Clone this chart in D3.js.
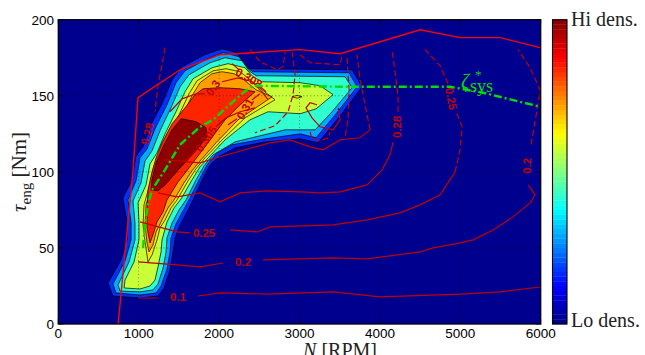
<!DOCTYPE html>
<html>
<head>
<meta charset="utf-8">
<script src="https://cdn.jsdelivr.net/npm/d3@7"></script>
<style>
  body { margin: 0; background: #fff; }
  svg { display: block; }
</style>
</head>
<body>
<svg id="chart" width="645" height="355"></svg>
<script>
// ---------------- data ----------------
const xTicks = [0, 1000, 2000, 3000, 4000, 5000, 6000];
const yTicks = [0, 50, 100, 150, 200];

// density regions (filled contours), outermost first, points are [N rpm, torque Nm]
const dens1 = [[680,18.4],[1016,17.1],[1240,18.4],[1315,23.7],[1390,35.5],[1427,47.4],[1452,56.6],[1514,65.1],[1601,73.7],[1676,81.6],[1788,94.7],[1887,104.6],[2012,110.5],[2198,115.8],[2572,119.7],[3007,121.7],[3231,119.1],[3505,136.8],[3778,155.9],[3654,167.1],[2385,167.8],[2298,171.1],[2223,178.3],[2037,180.9],[1825,177],[1539,169.1],[1415,160.5],[1303,146.1],[1141,129.6],[1054,116.4],[967,110.5],[917,94.7],[805,82.9],[855,66.4],[855,55.3],[780,42.1],[619,27]];
const dens2 = [[718,20.4],[1016,19.1],[1216,20.4],[1278,25],[1352,36.2],[1390,47.4],[1402,56.6],[1464,65.8],[1552,74.4],[1626,81.6],[1751,94.7],[1850,104.6],[1974,112.5],[2161,117.8],[2572,121.7],[3007,125],[3206,122.4],[3455,138.2],[3716,155.9],[3617,165.1],[2422,165.8],[2335,169.1],[2248,175.7],[2049,178.3],[1850,174.3],[1576,166.4],[1464,158.6],[1352,144.1],[1203,128.3],[1104,115.1],[1016,109.2],[967,94.1],[867,81.6],[905,66.4],[905,55.3],[830,41.4],[680,26.3]];
const dens3 = [[768,21.7],[1016,21.1],[1178,22.4],[1240,26.3],[1303,36.8],[1340,47.4],[1352,56.6],[1415,66.4],[1502,75],[1589,81.6],[1713,94.7],[1813,104],[1925,111.2],[2198,119.7],[2509,123.7],[2820,127.6],[3194,127.6],[3405,139.5],[3654,155.3],[3567,162.5],[2460,163.2],[2373,166.4],[2285,173],[2074,175],[1887,171.7],[1626,163.8],[1514,155.9],[1402,142.1],[1265,127],[1166,113.8],[1079,107.2],[1029,92.8],[929,80.9],[954,66.4],[954,55.3],[880,40.8],[743,25.7]];
const dens4 = [[818,23.7],[1016,23],[1141,25],[1203,28.9],[1240,37.5],[1278,47.4],[1290,55.3],[1352,67.1],[1440,76.3],[1527,82.2],[1663,94.7],[1763,103.3],[1863,109.2],[2074,121],[2385,134.2],[2609,139.5],[3007,138.2],[3206,141.4],[3418,150.7],[3256,156.6],[3007,158.6],[2534,159.2],[2422,162.5],[2323,168.4],[2111,171.1],[1912,168.4],[1676,161.2],[1576,152.6],[1464,139.5],[1328,125],[1228,112.5],[1141,105.3],[1091,91.4],[992,79.6],[1004,66.4],[1004,55.3],[942,40.8],[830,28.9]];
const dens5 = [[1116,40.8],[1166,45.4],[1228,55.3],[1265,63.2],[1328,68.4],[1402,76.3],[1477,81.6],[1614,94.1],[1713,102],[1825,109.2],[2037,121],[2323,135.5],[2696,147.4],[2534,153.9],[2385,160.5],[2261,165.8],[2086,167.8],[1925,166.4],[1726,159.9],[1626,151.3],[1514,138.8],[1377,123.7],[1278,111.2],[1191,104],[1129,90.1],[1066,78.3],[1054,65.1],[1079,54]];
const dens5b = [[2907,149.3],[2969,150.3],[3032,149.3],[2969,148.4]];
const dens6 = [[1129,47.4],[1178,52],[1216,60.5],[1290,68.4],[1365,76.3],[1440,81.6],[1564,92.8],[1663,100.7],[1775,107.9],[1962,119.1],[2236,134.2],[2659,149.3],[2460,153.9],[2310,160.5],[2186,164.5],[2037,165.8],[1912,164.5],[1763,158.6],[1663,150],[1552,137.5],[1415,122.4],[1315,110.5],[1228,102.6],[1153,89.5],[1091,78.3],[1079,65.1],[1104,53.3]];
const dens7 = [[1141,53.3],[1178,58.6],[1228,67.1],[1303,73.7],[1352,81.6],[1489,93.4],[1589,100],[1701,107.9],[1863,119.1],[2074,134.2],[2261,144.1],[2447,152.6],[2261,154.6],[2012,155.3],[1800,154.6],[1701,150.7],[1576,142.1],[1415,131.6],[1290,119.1],[1216,109.2],[1166,100],[1116,88.2],[1104,75],[1104,63.2]];
const dens8 = [[1527,134.9],[1713,133],[1838,129],[1850,123],[1701,113.2],[1514,102.6],[1328,91.4],[1240,87.5],[1153,88.2],[1166,94.7],[1216,105.9],[1315,117.8],[1415,127.6]];

const densRegions = [dens1, dens2, dens3, dens4, dens5, dens5b, dens6, dens7, dens8];
const densLevel = [1, 2, 3, 4, 5, 5, 6, 7, 8];

// efficiency contours (null = break for the inline label)
const eff010 = [[991,17.1],[1240,17.1],null,[1738,18.4],[2012,20.4],[2596,19.7],[3418,21.1],[4002,17.8],[4998,19.7],[5496,21.1],[5993,24.3]];
const eff020 = [[991,40.8],[1477,38.8],[1763,37.5],[2049,40.1],null,[2547,42.1],[3418,43.4],[3840,42.8],[4500,47.4],[4662,50],[4998,53.3],[5159,55.3],[5408,61.8],[5657,70.4],[5868,79.6],[5930,84.9],[5843,91.4]];
const eff025 = [[1016,67.1],[1477,60.5],[1638,59.9],null,[2136,61.8],[2472,60.5],[2634,63.8],[3418,65.1],[3840,68.4],[4251,73],[4500,78.3],[4749,84.9],[4935,100]];
const eff028 = [[1240,86.2],[1477,83.6],[1763,86.2],[2012,80.3],[2261,86.2],[2596,87.5],[3007,86.8],[3256,86.2],[3505,86.8],[3840,91.4],[4027,101.3],[4127,111.2],[4164,119.7]];
const eff029 = [[1328,107.9],[1763,105.9],[2012,109.9],[2323,114.5],[2634,119.1],[2882,121],[3131,116.4],[3293,114.5],[3505,121],[3753,122.4],[3878,127.6]];
const effLoop = [[3218,144.1],[3131,145.4],[3081,142.1],[3156,135.5],[3256,129.6],[3418,127.6],[3505,134.2],[3480,142.1]];
const eff030 = [[1390,139.5],[1539,148],[1713,151.3],[1825,151.3],null,[2037,159.2],[2236,161.8],[2410,159.2],[2534,152.6],[2609,147.4]];
const eff0305 = [[1576,106.6],[1713,114.5],null,[1962,129.6],[2086,135.5],[2261,139.5],[2447,142.1]];
const eff031 = [[2111,130.9],[2223,134.9],null,[2410,147.4],[2509,151.3]];
const eff0308 = [[2161,171.1],[2248,167.1],null,[2497,156.6],[2584,152.6]];

// the dashed (upper map) part of the contours
const eff020d = [[5880,118],[5955,140.8],[5993,153.9],[5868,168.4],[5719,180.3]];
const eff025d = [[4935,100],[4998,114.5],[5022,129.6],[4947,139.5],null,[4848,157.9],[4749,169.7],[4562,180.3]];
const eff028d = [[4226,139.5],[4226,149.3],[4201,160.5],[4151,180.3]];
const eff029d = [[3878,127.6],[3816,144.1],[3753,160.5],[3716,177]];
const eff028left = [[1328,181.6],[1290,170.4],[1240,157.2],[1203,139.5]];
const effTop1 = [[2385,180.3],[2509,172.4],[2721,167.1],[2796,169.1],[2821,178.9]];
const effTop2 = [[2907,178.9],[2945,163.8],[2920,150.7],[2858,139.5],[2696,130.3],[2447,125.7]];
const effTop3 = [[3007,177],[3131,171.7],[3505,170.4],[3530,177]];
const effTop4 = [[3131,126.3],[3156,121.7],[3256,120.4],[3356,122.4],[3380,126.3]];
const effTop5 = [[3592,175],[3617,154],[3604,135.5],[3567,122.4]];

const effSolid = [eff010, eff020, eff025, eff028, eff029, effLoop, eff030, eff0305, eff031, eff0308];
const effDashed = [eff020d, eff025d, eff028d, eff029d, eff028left, effTop1, effTop2, effTop3, effTop4, effTop5];

// contour labels: text, N, torque, angle
const effLabels = [
  ["0.1", 1489, 17.8, 0], ["0.2", 2298, 40.8, 0], ["0.25", 1813, 59.9, 0],
  ["0.2", 5831, 104, -90], ["0.25", 4886, 148, 80], ["0.28", 4214, 129.6, -90],
  ["0.28", 1104, 125, -75], ["0.3", 1925, 155.3, -55], ["0.305", 1838, 121.7, -55],
  ["0.31", 2323, 141.4, -60], ["0.308", 2372, 161.8, 30]
];

// max torque curve
const maxTqN = [744, 930, 991, 1514, 2012, 3007, 3505, 4500, 4998, 5496, 5993];
const maxTqT = [0, 101.3, 148.7, 167.1, 177, 180.3, 177.6, 193.4, 188.2, 188.2, 181.6];

// zeta*_sys operating line
const zetaN = [1054, 1079, 1116, 1166, 1327, 1514, 1763, 1925, 2298, 2422, 3629, 4873, 5284, 5993];
const zetaT = [50, 65.1, 78.3, 88.2, 101.3, 117.8, 129.6, 134.2, 152, 156.6, 155.9, 155.9, 152, 142.8];

// ---------------- drawing ----------------
const svg = d3.select("#chart");
const x = d3.scaleLinear().domain([0, 6000]).range([58.3, 540.7]);
const y = d3.scaleLinear().domain([0, 200]).range([324, 19.7]);

// matlab jet
const jet = d3.scaleLinear()
  .domain([0, 0.125, 0.375, 0.625, 0.875, 1])
  .range(["#000080", "#0000ff", "#00ffff", "#ffff00", "#ff0000", "#800000"]);
const levelColor = ["#00008f", "#0030ff", "#00a8ff", "#30ffd0", "#c8ff38", "#ffe600", "#ffa000", "#ff2400", "#8f0000"];

svg.append("clipPath").attr("id", "plotclip")
  .append("rect")
  .attr("x", x(0)).attr("y", y(200))
  .attr("width", x(6000) - x(0)).attr("height", y(0) - y(200));

const plot = svg.append("g").attr("clip-path", "url(#plotclip)");

plot.append("rect")
  .attr("x", x(0)).attr("y", y(200))
  .attr("width", x(6000) - x(0)).attr("height", y(0) - y(200))
  .attr("fill", levelColor[0]);

const area = d3.line().x(d => x(d[0])).y(d => y(d[1])).curve(d3.curveLinearClosed);
plot.selectAll(".dens")
  .data(densRegions)
  .enter().append("path")
  .attr("class", "dens")
  .attr("d", area)
  .attr("fill", (d, i) => levelColor[densLevel[i]])
  .attr("stroke", "#000")
  .attr("stroke-width", 0.7);

// grid on top (dotted)
const grid = plot.append("g");
grid.selectAll(".gx").data(xTicks.slice(1, -1)).enter().append("line")
  .attr("x1", d => x(d)).attr("x2", d => x(d))
  .attr("y1", y(0)).attr("y2", y(200));
grid.selectAll(".gy").data(yTicks.slice(1, -1)).enter().append("line")
  .attr("x1", x(0)).attr("x2", x(6000))
  .attr("y1", d => y(d)).attr("y2", d => y(d));
grid.selectAll("line")
  .attr("stroke", "#000").attr("stroke-width", 0.6)
  .attr("stroke-dasharray", "1,2.5").attr("opacity", 0.75);

// efficiency contours
const line = d3.line().defined(d => d !== null).x(d => x(d[0])).y(d => y(d[1]));
plot.selectAll(".effs").data(effSolid).enter().append("path")
  .attr("d", line).attr("fill", "none")
  .attr("stroke", "#c20000").attr("stroke-width", 1.2);
plot.selectAll(".effd").data(effDashed).enter().append("path")
  .attr("d", line).attr("fill", "none")
  .attr("stroke", "#c20000").attr("stroke-width", 1.2)
  .attr("stroke-dasharray", "6,3");

plot.selectAll(".efflab").data(effLabels).enter().append("text")
  .attr("transform", d => "translate(" + x(d[1]) + "," + y(d[2]) + ") rotate(" + d[3] + ")")
  .attr("text-anchor", "middle")
  .attr("dy", "0.36em")
  .attr("font-family", "Liberation Sans, Arial, sans-serif")
  .attr("font-size", 11.5)
  .attr("font-weight", "bold")
  .attr("fill", "#c20000")
  .text(d => d[0]);

// max torque line
const maxTq = maxTqN.map((n, i) => [n, maxTqT[i]]);
plot.append("path").attr("d", line(maxTq))
  .attr("fill", "none").attr("stroke", "#ff0000").attr("stroke-width", 1.4);

// zeta line
const zeta = zetaN.map((n, i) => [n, zetaT[i]]);
plot.append("path").attr("d", line(zeta))
  .attr("fill", "none").attr("stroke", "#00dd00").attr("stroke-width", 2.4)
  .attr("stroke-dasharray", "8,3,2,3");

// zeta*_sys label: three separate pieces so the boxes do not collide
const serif = "Liberation Serif, Times New Roman, serif";
svg.append("text").attr("x", 461).attr("y", 88)
  .attr("font-family", serif).attr("font-size", 20).attr("font-style", "italic")
  .attr("fill", "#00dd00").text("ζ");
svg.append("text").attr("x", 475).attr("y", 79)
  .attr("font-family", serif).attr("font-size", 13)
  .attr("fill", "#00dd00").text("*");
svg.append("text").attr("x", 470).attr("y", 92)
  .attr("font-family", serif).attr("font-size", 18)
  .attr("fill", "#00dd00").text("sys");

// frame + ticks
const axes = svg.append("g");
xTicks.forEach(t => {
  axes.append("line").attr("x1", x(t)).attr("x2", x(t)).attr("y1", y(0)).attr("y2", y(0) - 5);
  axes.append("line").attr("x1", x(t)).attr("x2", x(t)).attr("y1", y(200)).attr("y2", y(200) + 5);
});
yTicks.forEach(t => {
  axes.append("line").attr("x1", x(0)).attr("x2", x(0) + 5).attr("y1", y(t)).attr("y2", y(t));
  axes.append("line").attr("x1", x(6000)).attr("x2", x(6000) - 5).attr("y1", y(t)).attr("y2", y(t));
});
axes.selectAll("line").attr("stroke", "#000").attr("stroke-width", 0.8);
axes.append("rect")
  .attr("x", x(0)).attr("y", y(200))
  .attr("width", x(6000) - x(0)).attr("height", y(0) - y(200))
  .attr("fill", "none").attr("stroke", "#000").attr("stroke-width", 1.3);

svg.selectAll(".xt").data(xTicks).enter().append("text")
  .attr("x", d => x(d)).attr("y", 337.5)
  .attr("text-anchor", "middle")
  .attr("font-family", "Liberation Sans, Arial, sans-serif")
  .attr("font-size", 13.5).text(d => d);
svg.selectAll(".yt").data(yTicks).enter().append("text")
  .attr("x", 54).attr("y", d => y(d)).attr("dy", "0.36em")
  .attr("text-anchor", "end")
  .attr("font-family", "Liberation Sans, Arial, sans-serif")
  .attr("font-size", 13.5).text(d => d);

// axis titles (the reference has the x title running off the bottom edge)
const xt = svg.append("text")
  .attr("x", 340).attr("y", 356.5).attr("text-anchor", "middle")
  .attr("font-family", serif)
  .attr("font-size", 20).attr("fill", "#222");
xt.append("tspan").attr("font-style", "italic").text("N");
xt.append("tspan").text(" [RPM]");

const yt = svg.append("text")
  .attr("transform", "translate(26,172) rotate(-90)")
  .attr("text-anchor", "middle")
  .attr("font-family", serif)
  .attr("font-size", 21).attr("fill", "#222");
yt.append("tspan").attr("font-style", "italic").text("τ");
yt.append("tspan").attr("font-size", 15).attr("dy", 5).text("eng");
yt.append("tspan").attr("dy", -5).text(" [Nm]");

// colorbar
const cbX = 552.5, cbW = 14.5, nCb = 64;
const cbY = d3.scaleLinear().domain([0, nCb]).range([y(0), y(200)]);
svg.selectAll(".cb").data(d3.range(nCb)).enter().append("rect")
  .attr("x", cbX).attr("width", cbW)
  .attr("y", d => cbY(d + 1)).attr("height", d => cbY(d) - cbY(d + 1) + 0.3)
  .attr("fill", d => jet((d + 0.5) / nCb));
svg.append("rect")
  .attr("x", cbX).attr("y", y(200)).attr("width", cbW).attr("height", y(0) - y(200))
  .attr("fill", "none").attr("stroke", "#000").attr("stroke-width", 1.1);
svg.append("text").attr("x", 571).attr("y", 26)
  .attr("font-family", serif)
  .attr("font-size", 20).attr("fill", "#222").text("Hi dens.");
svg.append("text").attr("x", 571).attr("y", 327)
  .attr("font-family", serif)
  .attr("font-size", 20).attr("fill", "#222").text("Lo dens.");
</script>
</body>
</html>
